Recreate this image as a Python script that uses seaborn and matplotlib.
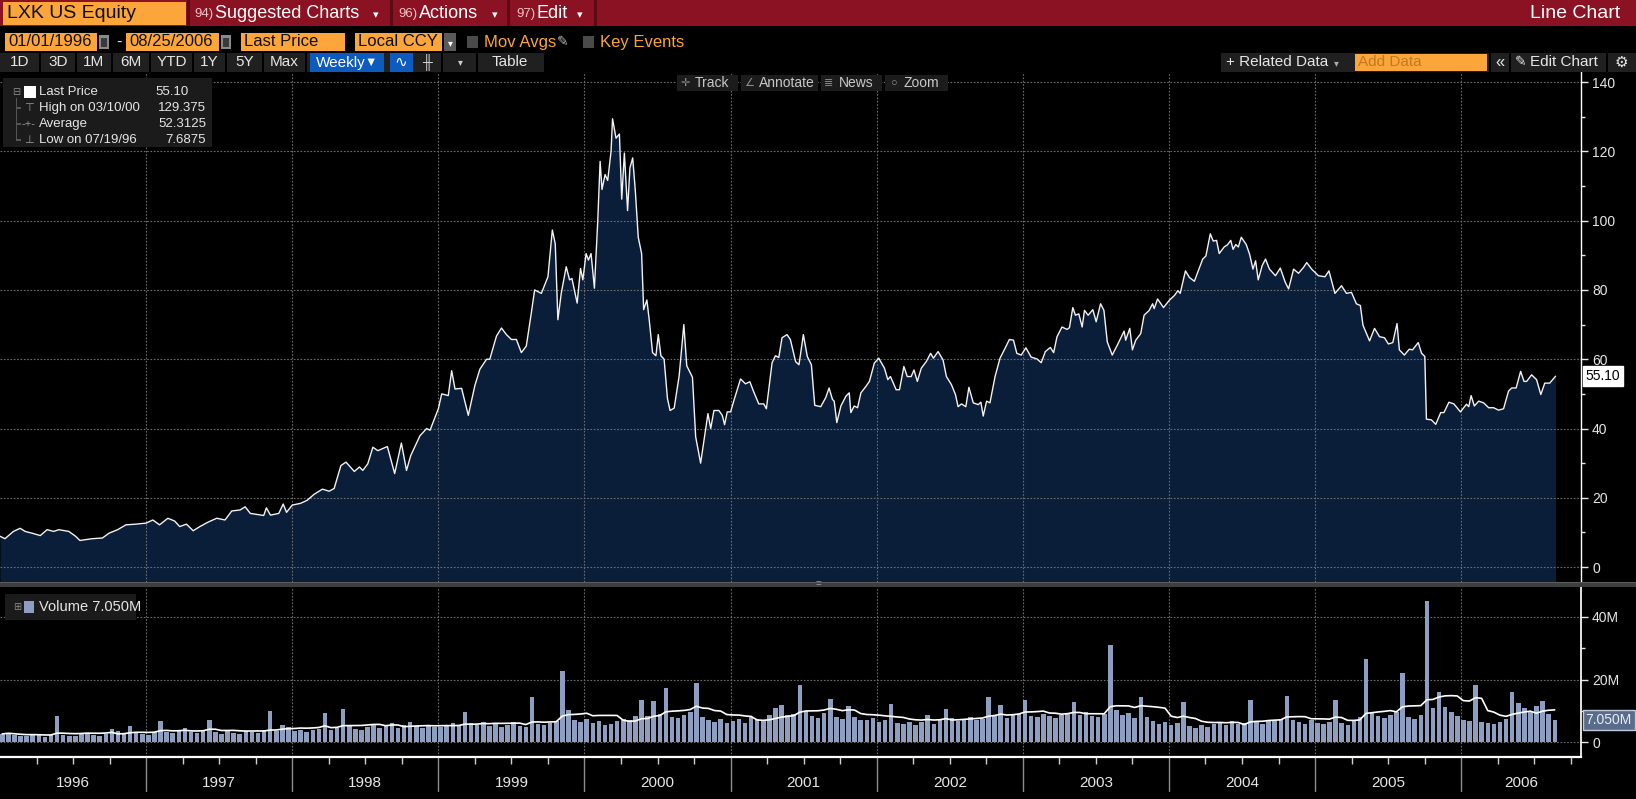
import matplotlib
matplotlib.use('Agg')
import matplotlib.pyplot as plt
import matplotlib.font_manager as fm
import matplotlib.transforms as mtransforms
from matplotlib.patches import Rectangle
import numpy as np
import pandas as pd
import seaborn as sns

# ---- values ----
# weekly close of LXK, sampled where the line turns (decimal year, USD)
PRICE_T = [
    1996.000, 1996.034, 1996.092, 1996.138, 1996.172, 1996.218, 1996.276, 1996.322, 1996.368,
    1996.402, 1996.471, 1996.517, 1996.547, 1996.632, 1996.701, 1996.747, 1996.805, 1996.862,
    1996.931,
    1997.000, 1997.046, 1997.092, 1997.149, 1997.195, 1997.230, 1997.276, 1997.322, 1997.368,
    1997.425, 1997.483, 1997.540, 1997.586, 1997.644, 1997.678, 1997.713, 1997.759, 1997.805,
    1997.823, 1997.851, 1997.908, 1997.938, 1997.961,
    1998.000, 1998.057, 1998.103, 1998.149, 1998.207, 1998.253, 1998.287, 1998.333, 1998.368,
    1998.425, 1998.460, 1998.483, 1998.517, 1998.552, 1998.586, 1998.651, 1998.701, 1998.747,
    1998.782, 1998.811, 1998.874, 1998.920, 1998.943,
    1999.000, 1999.023, 1999.068, 1999.091, 1999.114, 1999.159, 1999.205, 1999.250, 1999.284,
    1999.330, 1999.352, 1999.398, 1999.432, 1999.466, 1999.500, 1999.534, 1999.568, 1999.602,
    1999.636, 1999.659, 1999.705, 1999.750, 1999.780, 1999.800, 1999.818, 1999.841, 1999.875,
    1999.898, 1999.914, 1999.950, 1999.973, 1999.989,
    2000.011, 2000.027, 2000.045, 2000.068, 2000.091, 2000.107, 2000.120, 2000.141, 2000.159,
    2000.182, 2000.192, 2000.216, 2000.239, 2000.255, 2000.273, 2000.295, 2000.311, 2000.330,
    2000.348, 2000.368, 2000.391, 2000.405, 2000.427, 2000.443, 2000.466, 2000.489, 2000.505,
    2000.523, 2000.545, 2000.568, 2000.586, 2000.614, 2000.648, 2000.680, 2000.700, 2000.739,
    2000.761, 2000.795, 2000.823, 2000.845, 2000.864, 2000.886, 2000.920, 2000.943, 2000.959,
    2000.977,
    2001.000, 2001.023, 2001.068, 2001.102, 2001.132, 2001.159, 2001.193, 2001.227, 2001.245,
    2001.284, 2001.307, 2001.330, 2001.352, 2001.386, 2001.409, 2001.445, 2001.468, 2001.498,
    2001.525, 2001.553, 2001.576, 2001.617, 2001.651, 2001.674, 2001.697, 2001.709, 2001.727,
    2001.755, 2001.789, 2001.812, 2001.823, 2001.846, 2001.869, 2001.892, 2001.927, 2001.950,
    2001.984,
    2002.014, 2002.053, 2002.076, 2002.094, 2002.133, 2002.156, 2002.186, 2002.209, 2002.236,
    2002.255, 2002.278, 2002.305, 2002.339, 2002.369, 2002.388, 2002.420, 2002.454, 2002.477,
    2002.511, 2002.539, 2002.557, 2002.580, 2002.610, 2002.631, 2002.661, 2002.695, 2002.713,
    2002.729, 2002.752, 2002.775, 2002.810, 2002.844, 2002.878, 2002.908, 2002.936, 2002.959,
    2002.989,
    2003.021, 2003.057, 2003.096, 2003.126, 2003.154, 2003.188, 2003.211, 2003.234, 2003.268,
    2003.303, 2003.319, 2003.342, 2003.360, 2003.383, 2003.406, 2003.422, 2003.447, 2003.479,
    2003.502, 2003.532, 2003.555, 2003.578, 2003.612, 2003.647, 2003.693, 2003.704, 2003.732,
    2003.750, 2003.773, 2003.807, 2003.830, 2003.865, 2003.888, 2003.899, 2003.922, 2003.963,
    2004.002, 2004.038, 2004.061, 2004.077, 2004.113, 2004.140, 2004.174, 2004.231, 2004.253,
    2004.283, 2004.303, 2004.326, 2004.344, 2004.378, 2004.400, 2004.423, 2004.439, 2004.457,
    2004.475, 2004.495, 2004.529, 2004.552, 2004.575, 2004.593, 2004.611, 2004.638, 2004.661,
    2004.688, 2004.729, 2004.762, 2004.796, 2004.819, 2004.853, 2004.887, 2004.921, 2004.943,
    2004.977,
    2005.023, 2005.068, 2005.095, 2005.136, 2005.181, 2005.215, 2005.249, 2005.283, 2005.310,
    2005.328, 2005.373, 2005.407, 2005.441, 2005.475, 2005.502, 2005.532, 2005.561, 2005.577,
    2005.611, 2005.645, 2005.667, 2005.706, 2005.729, 2005.751, 2005.762, 2005.796, 2005.826,
    2005.860, 2005.882, 2005.916, 2005.950, 2005.995,
    2006.036, 2006.052, 2006.068, 2006.090, 2006.120, 2006.154, 2006.188, 2006.222, 2006.256,
    2006.290, 2006.324, 2006.346, 2006.376, 2006.407, 2006.430, 2006.448, 2006.482, 2006.516,
    2006.545, 2006.572, 2006.606, 2006.646,
]
PRICE = [
    8.9, 8.2, 10.3, 11.2, 10.3, 9.8, 9.1, 10.8, 10.3,
    10.8, 10.3, 8.9, 7.69, 8.2, 8.4, 9.8, 10.8, 12.2,
    12.4,
    12.7, 13.6, 12.2, 14.1, 13.3, 11.7, 12.4, 10.5, 11.7,
    13.0, 14.1, 13.6, 16.2, 16.5, 17.4, 15.5, 15.2, 14.9,
    17.1, 15.0, 15.5, 18.2, 15.8,
    17.9, 18.4, 19.3, 21.0, 22.5, 21.9, 22.7, 29.3, 30.3,
    27.6, 28.9, 27.9, 29.8, 34.6, 33.6, 34.8, 27.0, 35.8,
    27.9, 32.2, 37.9, 40.0, 39.5,
    45.7, 50.0, 49.5, 56.7, 51.4, 51.6, 43.8, 52.4, 57.1,
    60.0, 60.0, 66.7, 69.0, 67.1, 65.7, 65.7, 61.9, 63.8,
    73.3, 80.0, 79.0, 83.8, 97.3, 93.3, 71.4, 79.0, 86.7,
    82.9, 83.3, 76.2, 86.2, 82.9,
    90.5, 88.6, 90.5, 80.5, 100.0, 117.1, 109.0, 113.3, 111.6,
    120.0, 129.4, 123.8, 125.0, 106.2, 119.5, 102.9, 115.2, 118.1,
    108.6, 95.2, 90.5, 74.3, 77.1, 71.4, 61.9, 61.0, 67.1,
    61.0, 60.0, 48.6, 45.2, 45.9, 55.2, 70.0, 58.1, 54.8,
    37.6, 30.0, 38.0, 44.3, 40.0, 45.2, 45.2, 43.8, 41.1,
    44.8,
    44.8, 48.1, 54.3, 52.9, 53.5, 50.5, 47.1, 47.1, 45.7,
    59.0, 61.0, 60.5, 66.2, 67.1, 65.7, 59.3, 58.4, 67.1,
    60.8, 58.4, 46.7, 46.3, 48.9, 51.7, 48.4, 47.9, 41.7,
    46.5, 49.3, 50.3, 44.6, 46.5, 46.0, 50.3, 52.2, 53.6,
    58.9,
    60.3, 57.4, 54.1, 55.0, 51.2, 51.2, 57.9, 55.0, 55.0,
    56.9, 53.6, 57.4, 59.3, 61.7, 60.3, 62.2, 59.8, 55.0,
    52.7, 49.8, 46.3, 47.1, 46.3, 51.9, 47.4, 46.9, 47.6,
    43.6, 47.9, 47.4, 55.0, 60.3, 63.1, 65.7, 65.5, 61.7,
    61.2,
    63.3, 60.6, 60.1, 59.0, 62.2, 63.4, 61.9, 66.5, 69.3,
    68.6, 69.1, 74.9, 72.7, 73.1, 69.3, 74.1, 72.7, 74.3,
    70.8, 76.0, 74.1, 65.0, 61.2, 64.1, 68.1, 65.5, 68.9,
    62.7, 65.5, 67.4, 72.7, 74.1, 76.0, 74.6, 77.4, 74.9,
    77.0, 78.4, 79.8, 79.0, 85.5, 83.6, 82.5, 88.9, 89.8,
    96.2, 94.1, 94.3, 90.5, 92.4, 93.0, 94.3, 91.7, 93.1,
    92.4, 95.2, 93.1, 90.3, 86.0, 88.4, 82.9, 87.0, 88.9,
    86.0, 84.1, 86.3, 82.2, 80.3, 86.0, 84.8, 86.5, 87.9,
    86.0,
    84.1, 83.8, 85.5, 79.0, 81.2, 79.0, 79.3, 76.0, 75.5,
    69.8, 65.3, 68.9, 66.5, 66.2, 64.4, 64.8, 70.3, 62.7,
    61.2, 62.9, 62.7, 64.8, 61.7, 60.8, 42.7, 42.5, 41.2,
    44.6, 44.6, 47.6, 47.1, 44.8,
    47.0, 46.3, 49.5, 46.5, 47.9, 47.4, 46.0, 46.0, 45.3,
    45.7, 50.8, 51.7, 51.7, 56.5, 53.6, 53.6, 55.5, 54.1,
    49.8, 53.1, 53.1, 55.1,
]

# traded volume, millions of shares, two readings per month from Jan 1996
VOLUME_M = [
    2.6, 3.0, 2.3, 2.0, 1.9, 2.4, 2.1, 1.7, 2.2, 8.2, 2.4, 2.0,
    1.8, 2.6, 2.9, 2.2, 1.9, 2.5, 4.3, 3.4, 3.0, 5.0, 3.3, 2.6,      # 1996
    2.4, 3.1, 6.8, 3.2, 2.8, 3.9, 4.4, 3.1, 2.9, 3.5, 7.0, 3.3,
    2.7, 3.4, 3.0, 2.6, 3.6, 3.1, 2.9, 3.8, 9.8, 3.5, 5.4, 4.9,      # 1997
    3.6, 4.0, 3.2, 3.9, 4.3, 9.3, 3.8, 4.6, 10.6, 5.2, 4.1, 3.9,
    4.8, 5.6, 4.4, 5.1, 6.2, 4.5, 5.3, 6.4, 5.0, 4.6, 5.5, 4.8,      # 1998
    4.9, 5.3, 6.1, 5.0, 9.5, 6.2, 5.4, 6.3, 5.1, 6.0, 4.7, 5.6,
    6.4, 5.2, 4.9, 14.3, 5.8, 5.3, 6.0, 6.8, 22.6, 10.3, 7.1, 6.5,   # 1999
    7.4, 6.2, 6.8, 5.5, 5.9, 6.6, 7.3, 6.9, 8.2, 13.5, 8.4, 13.2,
    9.1, 17.4, 8.0, 7.6, 8.8, 9.6, 18.8, 7.9, 7.1, 6.4, 7.5, 6.2,    # 2000
    6.6, 7.3, 6.0, 8.1, 7.4, 6.8, 8.6, 10.9, 11.7, 8.5, 9.0, 18.3,
    10.0, 8.4, 7.8, 9.2, 13.7, 8.1, 7.3, 11.4, 8.0, 7.2, 6.9, 7.6,   # 2001
    6.5, 7.0, 12.1, 6.1, 5.8, 6.4, 5.5, 6.3, 8.7, 5.9, 7.4, 10.6,
    7.8, 6.6, 7.2, 8.1, 6.9, 7.5, 14.3, 8.3, 11.9, 7.7, 8.8, 9.0,    # 2002
    13.5, 8.4, 7.9, 9.1, 8.2, 7.6, 8.8, 9.4, 12.8, 8.7, 9.6, 8.3,
    7.9, 9.0, 31.0, 10.4, 8.6, 9.2, 7.8, 14.3, 8.1, 6.7, 5.9, 6.3,   # 2003
    5.4, 6.0, 12.8, 5.1, 4.6, 5.5, 4.9, 5.8, 6.2, 5.3, 6.6, 5.7,
    6.1, 13.5, 6.4, 5.9, 7.2, 6.8, 7.5, 14.6, 7.0, 6.3, 5.8, 6.9,    # 2004
    6.1, 5.7, 6.4, 13.5, 6.0, 5.6, 6.8, 7.9, 26.6, 9.4, 8.3, 7.6,
    8.8, 9.5, 22.2, 8.0, 7.4, 8.6, 45.1, 10.8, 16.0, 11.2, 9.6, 8.4, # 2005
    7.2, 6.8, 18.1, 6.5, 6.0, 5.8, 6.3, 7.4, 15.9, 12.4, 10.8, 9.5,
    11.6, 13.0, 8.9, 7.05,                                            # 2006
]

LAST_PRICE = 55.10
HIGH = 129.375
HIGH_DATE = '03/10/00'
AVERAGE = 52.3125
LOW = 7.6875
LOW_DATE = '07/19/96'
LAST_VOLUME = 7.050

YEARS = list(range(1996, 2007))
PRICE_TICKS = [0, 20, 40, 60, 80, 100, 120, 140]
VOL_TICKS = [0, 20, 40]
VOL_TICK_LABELS = ['0', '20M', '40M']
RANGE_BUTTONS = ['1D', '3D', '1M', '6M', 'YTD', '1Y', '5Y', 'Max']

# ---- look ----
W, H = 1636, 799
X0, X1 = 1996.0, 2006.82
ORANGE = '#fba53a'
RED = '#8a1222'
NAVY = '#0a1e3a'
VOLC = '#8e9ec0'
GRID = '#6c6c6c'
TXT = '#e6e6e6'

sns.set_theme(style='dark', rc={'axes.facecolor': 'black', 'figure.facecolor': 'black'})
names = {f.name for f in fm.fontManager.ttflist}
UI = 'Liberation Sans Narrow' if 'Liberation Sans Narrow' in names else 'Liberation Sans'
plt.rcParams['font.family'] = [UI, 'DejaVu Sans']

fig = plt.figure(figsize=(W / 100, H / 100), dpi=100, facecolor='black')


def fx(x):
    return x / W


def fy(y):
    return 1 - y / H


def rect(x0, y0, x1, y1, color, z=1):
    fig.add_artist(Rectangle((fx(x0), fy(y1)), (x1 - x0) / W, (y1 - y0) / H,
                             transform=fig.transFigure, facecolor=color,
                             edgecolor='none', zorder=z))


def txt(x, y, s, color=TXT, size=11, ha='left', z=5, **kw):
    fig.text(fx(x), fy(y), s, color=color, fontsize=size, ha=ha, va='center',
             zorder=z, **kw)


# ---- title bar ----
rect(0, 0, W, 26, RED)
rect(3, 2, 186, 25, ORANGE, 2)
txt(7, 14, 'LXK US Equity', '#111111', 14)
for x in (187, 390, 507, 594):
    rect(x, 0, x + 3, 26, '#5c0a14', 2)
txt(194, 14, '94)', '#f0c4c4', 9.5)
txt(215, 14, 'Suggested Charts', 'white', 13)
txt(373, 15, '▾', 'white', 8)
txt(398, 14, '96)', '#f0c4c4', 9.5)
txt(419, 14, 'Actions', 'white', 13)
txt(492, 15, '▾', 'white', 8)
txt(516, 14, '97)', '#f0c4c4', 9.5)
txt(537, 14, 'Edit', 'white', 13)
txt(577, 15, '▾', 'white', 8)
txt(1620, 14, 'Line Chart', 'white', 14, ha='right')

# ---- second row: dates and fields ----
for x0, x1, s in [(5, 97, '01/01/1996'), (126, 219, '08/25/2006'),
                  (241, 345, 'Last Price'), (355, 442, 'Local CCY')]:
    rect(x0, 33, x1, 51, ORANGE, 2)
    txt(x0 + 3, 42, s, '#111111', 12)
for x in (99, 221):
    rect(x, 35, x + 10, 49, '#8a8a8a', 2)
    rect(x + 2, 38, x + 8, 47, '#3a3a3a', 3)
txt(116, 42, '-', TXT, 12)
rect(444, 33, 456, 51, '#5a5a5a', 2)
txt(450, 43, '▾', 'white', 7, ha='center')
rect(467, 36, 478, 48, '#4a4a4a', 2)
txt(484, 42, 'Mov Avgs', ORANGE, 12)
txt(557, 42, '✎', '#b8b8b8', 10)
rect(583, 36, 594, 48, '#4a4a4a', 2)
txt(600, 42, 'Key Events', ORANGE, 12)

# ---- third row: toolbar ----
rect(0, 53, 544, 72, '#202020')
btn_edges = [0, 40, 76, 112, 150, 193, 226, 263, 306]
for i, s in enumerate(RANGE_BUTTONS):
    x0, x1 = btn_edges[i], btn_edges[i + 1]
    txt((x0 + x1) / 2, 62.5, s, TXT, 11, ha='center')
    rect(x1 - 1, 53, x1 + 1, 72, 'black', 2)
rect(310, 53, 384, 72, '#0d5bbf', 2)
txt(316, 62.5, 'Weekly', 'white', 11)
txt(364, 62.5, '▼', 'white', 9)
rect(390, 53, 413, 72, '#0d5bbf', 2)
txt(401, 62.5, '∿', 'white', 11, ha='center')
txt(427, 62.5, '╫', '#cfcfcf', 10, ha='center')
rect(441, 53, 443, 72, 'black', 2)
rect(476, 53, 478, 72, 'black', 2)
txt(460, 62.5, '▾', '#cfcfcf', 7, ha='center')
txt(492, 62.5, 'Table', TXT, 11)

rect(1221, 53, W, 72, '#202020')
txt(1226, 62.5, '+ Related Data', TXT, 11)
txt(1334, 63, '▾', '#aaaaaa', 7)
rect(1355, 54, 1487, 71, ORANGE, 2)
txt(1358, 62.5, 'Add Data', '#c07a25', 11)
rect(1489, 53, 1491, 72, 'black', 2)
txt(1495, 62, '«', TXT, 12)
rect(1509, 53, 1511, 72, 'black', 2)
txt(1515, 62.5, '✎', TXT, 10)
txt(1530, 62.5, 'Edit Chart', TXT, 11)
rect(1606, 53, 1608, 72, 'black', 2)
txt(1621, 62.5, '⚙', TXT, 11, ha='center')

# ---- price panel ----
ax_p = fig.add_axes([0, fy(582), fx(1581), (582 - 72) / H])
ax_p.set_facecolor('black')
ax_p.fill_between(PRICE_T, PRICE, -10, color=NAVY, lw=0, zorder=1)
sns.lineplot(x=PRICE_T, y=PRICE, ax=ax_p, color='#f2f2f2', linewidth=1.0,
             estimator=None, sort=False, zorder=3)
ax_p.set_xlim(X0, X1)
ax_p.set_ylim(-4.3, 142.9)
ax_p.set_xticks(YEARS[1:])
ax_p.set_xticklabels([])
ax_p.tick_params(axis='x', length=0)
ax_p.yaxis.tick_right()
ax_p.set_yticks(PRICE_TICKS)
ax_p.set_yticks([v + 10 for v in PRICE_TICKS[:-1]], minor=True)
ax_p.tick_params(axis='y', which='both', colors=TXT, labelsize=10,
                 direction='out', width=1, pad=3)
ax_p.tick_params(axis='y', which='major', length=5)
ax_p.tick_params(axis='y', which='minor', length=3)
ax_p.grid(True, which='major', color=GRID, linestyle=(0, (1.5, 1.5)), linewidth=0.8)
ax_p.set_axisbelow('line')
ax_p.set_xlabel('')
ax_p.set_ylabel('')
for s in ('top', 'left', 'bottom'):
    ax_p.spines[s].set_visible(False)
ax_p.spines['right'].set_color('white')
ax_p.spines['right'].set_linewidth(1)
tr_p = mtransforms.blended_transform_factory(ax_p.transAxes, ax_p.transData)
ax_p.text(1.003, LAST_PRICE, f'{LAST_PRICE:.2f}', transform=tr_p, ha='left', va='center',
          fontsize=10, color='black', zorder=6,
          bbox=dict(boxstyle='square,pad=0.22', fc='white', ec='white'))

# legend box of the price panel
rect(3, 78, 212, 147, '#1b1b1b', 3)
rows = [('Last Price', f'{LAST_PRICE:.2f}', 189),
        (f'High on {HIGH_DATE}', f'{HIGH:g}', 206),
        ('Average', f'{AVERAGE:g}', 206),
        (f'Low on {LOW_DATE}', f'{LOW:g}', 206)]
for i, (name, val, xr) in enumerate(rows):
    y = 92 + 16 * i
    txt(39, y, name, TXT, 9.5)
    txt(xr, y, val, TXT, 9.5, ha='right')
txt(16, 92, '⊟', '#8a8a8a', 7, ha='center')
rect(24, 86, 36, 98, 'white', 4)
rect(15.5, 98, 16.5, 140, '#555555', 4)
for i, g in enumerate(['⊤', '-+-', '⊥']):
    y = 108 + 16 * i
    rect(16, y - 0.5, 21, y + 0.5, '#555555', 4)
    txt(29, y, g, '#9a9a9a', 8, ha='center')

# chart tools strip
for x0, x1, icon, s in [(677, 738, '✛', 'Track'), (741, 818, '∠', 'Annotate'),
                        (821, 882, '≣', 'News'), (885, 948, '○', 'Zoom')]:
    rect(x0, 75, x1, 91, '#1c1c1c', 3)
    txt(x0 + 8, 83, icon, '#8c8c8c', 8, ha='center')
    txt(x0 + 18, 83, s, '#c8c8c8', 10)

# ---- splitter ----
rect(0, 582, W, 587, '#3e3e3e', 2)
rect(0, 582, W, 583, '#5c5c5c', 2)
txt(818, 584.5, '=', '#a0a0a0', 7, ha='center')

# ---- volume panel ----
VOL_T = 1996 + np.arange(len(VOLUME_M)) / 24
vol_ma = pd.Series(VOLUME_M).rolling(10, min_periods=1).mean()
ax_v = fig.add_axes([0, fy(757), fx(1581), (757 - 587) / H])
ax_v.set_facecolor('black')
ax_v.bar(VOL_T, VOLUME_M, width=0.031, align='edge', color=VOLC, lw=0, zorder=2)
sns.lineplot(x=VOL_T + 0.015, y=vol_ma, ax=ax_v, color='white', linewidth=1.2,
             estimator=None, sort=False, zorder=3)
ax_v.set_xlim(X0, X1)
ax_v.set_ylim(-4.8, 49.6)
ax_v.set_xticks(YEARS[1:])
ax_v.set_xticklabels([])
ax_v.tick_params(axis='x', length=0)
ax_v.yaxis.tick_right()
ax_v.set_yticks(VOL_TICKS)
ax_v.set_yticklabels(VOL_TICK_LABELS)
ax_v.set_yticks([10, 30], minor=True)
ax_v.tick_params(axis='y', which='both', colors=TXT, labelsize=10,
                 direction='out', width=1, pad=3)
ax_v.tick_params(axis='y', which='major', length=5)
ax_v.tick_params(axis='y', which='minor', length=3)
ax_v.grid(True, which='major', color=GRID, linestyle=(0, (1.5, 1.5)), linewidth=0.8)
ax_v.set_axisbelow(True)
ax_v.set_xlabel('')
ax_v.set_ylabel('')
for s in ('top', 'left', 'bottom'):
    ax_v.spines[s].set_visible(False)
ax_v.spines['right'].set_color('white')
tr_v = mtransforms.blended_transform_factory(ax_v.transAxes, ax_v.transData)
ax_v.text(1.003, LAST_VOLUME, f'{LAST_VOLUME:.3f}M', transform=tr_v, ha='left',
          va='center', fontsize=10, color='#e8eef8', zorder=6,
          bbox=dict(boxstyle='square,pad=0.2', fc='#5a6b8c', ec='#c0cadf', lw=1))

rect(5, 594, 136, 620, '#1b1b1b', 3)
txt(17, 607, '⊞', '#8a8a8a', 7, ha='center')
rect(24, 601, 34, 613, VOLC, 4)
txt(39, 607, f'Volume {LAST_VOLUME:.3f}M', TXT, 10.5)

# ---- time axis ----
ax_t = fig.add_axes([0, 0, fx(1581), 1 - 757 / H])
ax_t.set_facecolor('black')
ax_t.set_xlim(X0, X1)
ax_t.set_ylim(0, 1)
ax_t.set_yticks([])
ax_t.xaxis.set_ticks_position('top')
ax_t.set_xticks([])
ax_t.set_xticks([y + q / 4 for y in YEARS for q in (1, 2, 3) if y + q / 4 < X1], minor=True)
ax_t.tick_params(axis='x', which='minor', direction='in', length=5, width=1,
                 color='#d0d0d0', labeltop=False, labelbottom=False)
for s in ('left', 'bottom', 'right'):
    ax_t.spines[s].set_visible(False)
ax_t.spines['top'].set_color('white')
ax_t.spines['top'].set_linewidth(1.6)
for y in YEARS[1:]:
    ax_t.axvline(y, ymin=0.19, ymax=1, color='#8c8c8c', lw=1)
for y in YEARS:
    mid = (y + min(y + 1, X1)) / 2
    ax_t.text(mid, 0.38, str(y), ha='center', va='center', color=TXT, fontsize=11)

fig.savefig('out.png', dpi=100, facecolor='black')
